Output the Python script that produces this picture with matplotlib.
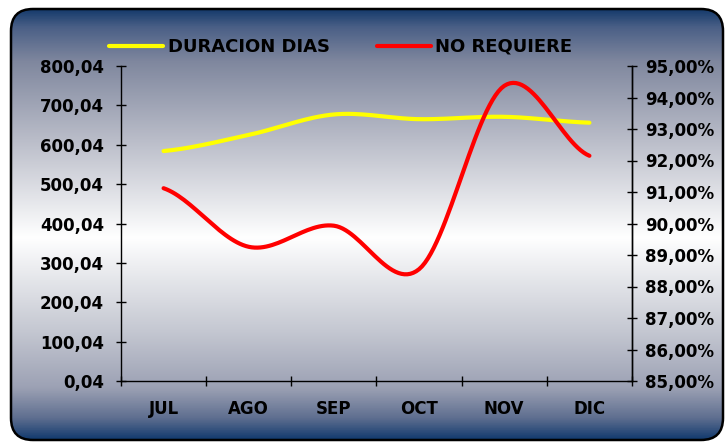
import numpy as np
import matplotlib.pyplot as plt
from matplotlib.patches import FancyBboxPatch
from matplotlib.colors import LinearSegmentedColormap
from matplotlib.ticker import FixedLocator, FuncFormatter

months = ['JUL', 'AGO', 'SEP', 'OCT', 'NOV', 'DIC']
duracion_dias = [584, 625, 677, 665, 671, 656]
no_requiere = [91.12, 89.26, 89.93, 88.55, 94.37, 92.15]

W, H = 725, 442


def smooth(y, n=30):
    # catmull-rom style smoothing like the excel "smoothed line" option
    x = np.arange(len(y), dtype=float)
    y = np.asarray(y, dtype=float)
    px = np.concatenate([[2 * x[0] - x[1]], x, [2 * x[-1] - x[-2]]])
    py = np.concatenate([[y[0]], y, [y[-1]]])
    xs, ys = [], []
    for i in range(1, len(px) - 2):
        t = np.linspace(0, 1, n)
        for p, out in ((px, xs), (py, ys)):
            p0, p1, p2, p3 = p[i - 1], p[i], p[i + 1], p[i + 2]
            m1 = (p2 - p0) / 2
            m2 = (p3 - p1) / 2
            h00 = 2 * t**3 - 3 * t**2 + 1
            h10 = t**3 - 2 * t**2 + t
            h01 = -2 * t**3 + 3 * t**2
            h11 = t**3 - t**2
            out.extend(h00 * p1 + h10 * m1 + h01 * p2 + h11 * m2)
    return np.array(xs), np.array(ys)


fig = plt.figure(figsize=(W / 100, H / 100), dpi=100)

# background with rounded frame and vertical gradient
bg = fig.add_axes([0, 0, 1, 1])
bg.set_xlim(0, W)
bg.set_ylim(H, 0)
bg.axis('off')
cmap = LinearSegmentedColormap.from_list('bg', [
    (0.0, '#163b6c'), (0.04, '#4a5f86'), (0.12, '#7f879e'), (0.30, '#b9bcc8'),
    (0.53, '#ffffff'), (0.75, '#c4c7d1'), (0.88, '#9ca1b4'), (0.95, '#5f6f90'),
    (1.0, '#123a6e')])
grad = np.linspace(0, 1, 256).reshape(-1, 1)
box = FancyBboxPatch((11, 9), W - 13, H - 11, boxstyle='round,pad=0,rounding_size=22',
                     facecolor='none', edgecolor='black', linewidth=1.8, zorder=3)
bg.add_patch(box)
im = bg.imshow(grad, cmap=cmap, aspect='auto', extent=(11, W - 2, H - 2, 9), zorder=1)
im.set_clip_path(box)

ax = fig.add_axes([121 / W, 1 - 381 / H, (632 - 121) / W, (381 - 66) / H])
ax.patch.set_alpha(0)
ax2 = ax.twinx()

xs, ys = smooth(duracion_dias)
l1, = ax.plot(xs, ys, color='#ffff00', lw=3, solid_capstyle='round', label='DURACION DIAS')
xs, ys = smooth(no_requiere)
l2, = ax2.plot(xs, ys, color='#ff0000', lw=3, solid_capstyle='round', label='NO REQUIERE')

ax.set_xlim(-0.5, len(months) - 0.5)
ax.set_ylim(0.04, 800.04)
ax.set_yticks(np.arange(0, 9) * 100 + 0.04)
ax.yaxis.set_major_formatter(FuncFormatter(lambda v, p: f'{v:.2f}'.replace('.', ',')))
ax2.set_ylim(85, 95)
ax2.set_yticks(np.arange(85, 96))
ax2.yaxis.set_major_formatter(FuncFormatter(lambda v, p: f'{v:.2f}%'.replace('.', ',')))

ax.xaxis.set_major_locator(FixedLocator(np.arange(len(months) + 1) - 0.5))
ax.xaxis.set_minor_locator(FixedLocator(np.arange(len(months))))
ax.set_xticklabels([])
ax.set_xticklabels(months, minor=True)
ax.tick_params(axis='x', which='minor', length=0, pad=14)
ax.tick_params(axis='x', which='major', direction='inout', length=7, width=1)

font = dict(family='DejaVu Sans', weight='bold', size=12)
for lab in ax.get_xticklabels(minor=True) + ax.get_yticklabels() + ax2.get_yticklabels():
    lab.set_fontproperties(font)
ax.tick_params(axis='y', direction='inout', length=7, width=1, pad=8.7)
ax2.tick_params(axis='y', direction='inout', length=7, width=1, pad=6)

for a in (ax, ax2):
    a.spines['top'].set_visible(False)
    for s in a.spines.values():
        s.set_linewidth(1)
ax2.spines['left'].set_visible(False)
ax2.spines['bottom'].set_visible(False)

fig.legend(handles=[l1, l2], loc='center left', bbox_to_anchor=(109 / W, 1 - 47 / H),
           ncol=2, frameon=False, handlelength=3.0, handletextpad=0.25, columnspacing=2.6,
           prop=dict(family='DejaVu Sans', weight='bold', size=13), borderpad=0,
           borderaxespad=0)

fig.savefig('out.png', dpi=100)
